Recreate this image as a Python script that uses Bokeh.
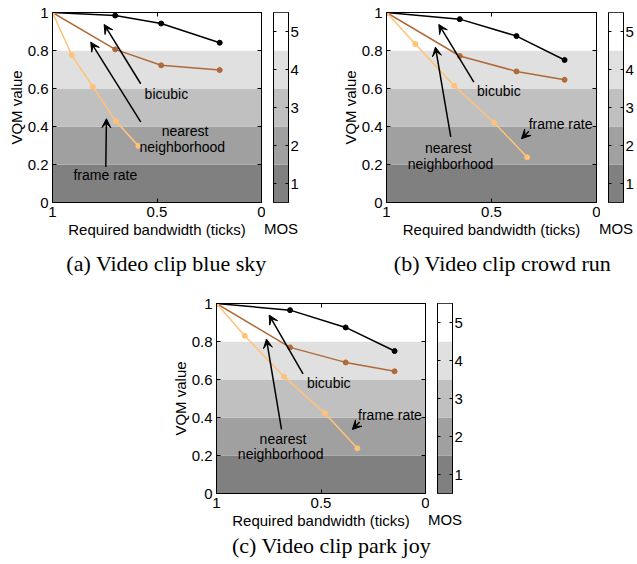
from bokeh.plotting import figure
from bokeh.models import Range1d, FixedTicker, LinearAxis, Arrow, VeeHead, Spacer
from bokeh.layouts import column, row
from bokeh.embed import file_html
from bokeh.resources import INLINE
from bokeh.core.properties import value

FONT = "Liberation Sans"
SERIF = "Liberation Serif"

# ---------------- data ----------------
# MOS bands (VQM value ranges) and their grey levels
band_bottom = [0.0, 0.2, 0.4, 0.6, 0.8]
band_top = [0.2, 0.4, 0.6, 0.8, 1.0]
mos_levels = [1, 2, 3, 4, 5]
mos_bottom = [0.5, 1.5, 2.5, 3.5, 4.5]
mos_top = [1.5, 2.5, 3.5, 4.5, 5.5]
band_colors = ["#808080", "#a0a0a0", "#c0c0c0", "#e0e0e0", "#ffffff"]

x_ticks = [1, 0.5, 0]
x_tick_labels = ["1", "0.5", "0"]
y_ticks = [0, 0.2, 0.4, 0.6, 0.8, 1]
y_tick_labels = ["0", "0.2", "0.4", "0.6", "0.8", "1"]

# (a) blue sky
a_bw = [1.0, 0.70, 0.48, 0.20]
a_bicubic = [1.0, 0.984, 0.942, 0.841]
a_nearest = [1.0, 0.806, 0.722, 0.697]
a_fr_bw = [1.0, 0.908, 0.807, 0.696, 0.589]
a_framerate = [1.0, 0.776, 0.609, 0.427, 0.298]

# (b) crowd run
b_bw = [1.0, 0.651, 0.381, 0.152]
b_bicubic = [1.0, 0.965, 0.876, 0.750]
b_nearest = [1.0, 0.771, 0.690, 0.646]
b_fr_bw = [1.0, 0.863, 0.678, 0.487, 0.330]
b_framerate = [1.0, 0.834, 0.615, 0.420, 0.238]

# (c) park joy
c_bw = [1.0, 0.648, 0.382, 0.148]
c_bicubic = [1.0, 0.965, 0.874, 0.750]
c_nearest = [1.0, 0.769, 0.690, 0.643]
c_fr_bw = [1.0, 0.865, 0.677, 0.482, 0.326]
c_framerate = [1.0, 0.830, 0.615, 0.423, 0.238]

# annotation texts and arrows: (x0, y0, x1, y1)
a_texts = [("bicubic", 0.455, 0.573), ("nearest", 0.366, 0.375),
           ("neighborhood", 0.379, 0.292), ("frame rate", 0.747, 0.144)]
a_arrows = [(0.578, 0.625, 0.753, 0.937), (0.578, 0.424, 0.817, 0.844),
            (0.745, 0.187, 0.742, 0.441)]
b_texts = [("bicubic", 0.465, 0.587), ("nearest", 0.706, 0.287),
           ("neighborhood", 0.695, 0.205), ("frame rate", 0.171, 0.415)]
b_arrows = [(0.584, 0.634, 0.751, 0.937), (0.694, 0.345, 0.767, 0.818),
            (0.322, 0.375, 0.357, 0.336)]
c_texts = [("bicubic", 0.463, 0.580), ("nearest", 0.682, 0.285),
           ("neighborhood", 0.693, 0.210), ("frame rate", 0.170, 0.414)]
c_arrows = [(0.586, 0.629, 0.748, 0.939), (0.689, 0.337, 0.761, 0.813),
            (0.315, 0.376, 0.350, 0.337)]

captions = ["(a) Video clip blue sky", "(b) Video clip crowd run", "(c) Video clip park joy"]

BLACK = "#000000"
BROWN = "#b0693a"
ORANGE = "#ffc278"
LABEL_SIZE = "15px"


def style_axis(ax, labels=True):
    ax.major_tick_in = 4
    ax.major_tick_out = 0
    ax.minor_tick_line_color = None
    ax.axis_line_color = "black"
    ax.major_tick_line_color = "black"
    ax.major_label_text_font = FONT
    ax.major_label_text_font_size = LABEL_SIZE
    ax.axis_label_text_font = FONT
    ax.axis_label_text_font_style = "normal"
    ax.axis_label_text_font_size = LABEL_SIZE
    ax.axis_label_text_color = "black"
    if labels:
        ax.major_label_text_color = "black"
    else:
        ax.major_label_text_color = None
        ax.major_label_standoff = 0


def main_fig(bw, bic, nea, fr_bw, fr, texts, arrows, fw, left_border, top_border):
    p = figure(frame_width=fw, frame_height=190,
               x_range=Range1d(x_ticks[0], x_ticks[-1]), y_range=Range1d(y_ticks[0], y_ticks[-1]),
               toolbar_location=None, output_backend="svg",
               x_axis_location=None, y_axis_location=None,
               min_border_left=left_border, min_border_right=4,
               min_border_top=top_border, min_border_bottom=38)
    p.grid.visible = False
    p.outline_line_color = "black"
    p.outline_line_width = 1
    p.background_fill_color = "white"

    xa = LinearAxis(ticker=FixedTicker(ticks=x_ticks),
                    major_label_overrides={t: l for t, l in zip(x_ticks, x_tick_labels)},
                    axis_label="Required bandwidth (ticks)")
    style_axis(xa)
    xa.major_label_standoff = 4
    xa.axis_label_standoff = 1
    p.add_layout(xa, "below")
    ya = LinearAxis(ticker=FixedTicker(ticks=y_ticks),
                    major_label_overrides={t: l for t, l in zip(y_ticks, y_tick_labels)},
                    axis_label="VQM value")
    style_axis(ya)
    ya.major_label_standoff = 4
    ya.axis_label_standoff = 0
    p.add_layout(ya, "left")
    xt = LinearAxis(ticker=FixedTicker(ticks=x_ticks))
    style_axis(xt, labels=False)
    p.add_layout(xt, "above")
    yr = LinearAxis(ticker=FixedTicker(ticks=y_ticks))
    style_axis(yr, labels=False)
    p.add_layout(yr, "right")

    p.quad(left=x_ticks[0], right=x_ticks[-1], bottom=band_bottom, top=band_top,
           fill_color=band_colors, line_color=None)

    p.line(bw, bic, line_color=BLACK, line_width=1.5)
    p.scatter(bw, bic, size=5, color=BLACK)
    p.line(bw, nea, line_color=BROWN, line_width=1.5)
    p.scatter(bw, nea, size=5, color=BROWN)
    p.line(fr_bw, fr, line_color=ORANGE, line_width=1.5)
    p.scatter(fr_bw, fr, size=5, color=ORANGE)

    for (x0, y0, x1, y1) in arrows:
        p.add_layout(Arrow(end=VeeHead(size=9, fill_color="black", line_color="black", line_width=1),
                           x_start=x0, y_start=y0, x_end=x1, y_end=y1,
                           line_color="black", line_width=1.5))
    p.text(x=[t[1] for t in texts], y=[t[2] for t in texts], text=[t[0] for t in texts],
           text_font=value(FONT), text_font_size="14px", text_color="black",
           text_align="center", text_baseline="middle")
    return p


def cb_fig(top_border, right_border):
    c = figure(frame_width=15, frame_height=190,
               x_range=Range1d(0, 1), y_range=Range1d(mos_bottom[0], mos_top[-1]),
               toolbar_location=None, output_backend="svg",
               x_axis_location=None, y_axis_location=None,
               min_border_left=8, min_border_right=right_border,
               min_border_top=top_border, min_border_bottom=38)
    c.grid.visible = False
    c.outline_line_color = "black"
    c.outline_line_width = 1
    c.quad(left=0, right=1, bottom=mos_bottom, top=mos_top,
           fill_color=band_colors, line_color=None)
    ra = LinearAxis(ticker=FixedTicker(ticks=mos_levels))
    style_axis(ra)
    ra.major_tick_in = 3
    ra.major_label_standoff = 2
    c.add_layout(ra, "right")
    la = LinearAxis(ticker=FixedTicker(ticks=mos_levels))
    style_axis(la, labels=False)
    la.major_tick_in = 3
    c.add_layout(la, "left")
    ba = LinearAxis(ticker=FixedTicker(ticks=[]), axis_label="MOS")
    style_axis(ba, labels=False)
    ba.major_tick_in = 0
    ba.axis_line_color = None
    ba.axis_label_standoff = 17
    c.add_layout(ba, "below")
    return c


def caption_fig(w, h, xs, ys, texts):
    f = figure(width=w, height=h, x_range=Range1d(0, w), y_range=Range1d(h, 0),
               toolbar_location=None, output_backend="svg",
               x_axis_location=None, y_axis_location=None, min_border=0)
    f.grid.visible = False
    f.outline_line_color = None
    f.text(x=xs, y=ys, text=texts, text_font=value(SERIF), text_font_size="22px",
           text_color="black", text_align="center", text_baseline="middle")
    return f


fa = main_fig(a_bw, a_bicubic, a_nearest, a_fr_bw, a_framerate, a_texts, a_arrows, 209, 52, 12)
ca = cb_fig(12, 50)
fb = main_fig(b_bw, b_bicubic, b_nearest, b_fr_bw, b_framerate, b_texts, b_arrows, 210, 44, 12)
cb = cb_fig(12, 10)
cap1 = caption_fig(629, 50, [166, 502], [23, 23], captions[:2])
fc = main_fig(c_bw, c_bicubic, c_nearest, c_fr_bw, c_framerate, c_texts, c_arrows, 209, 44, 13)
cc = cb_fig(13, 30)
cap2 = caption_fig(629, 28, [331], [14], captions[2:])

layout = column(row(fa, ca, fb, cb),
                cap1,
                row(Spacer(width=168, height=10), fc, cc),
                cap2)

open("out.html", "w").write(file_html(layout, INLINE))
